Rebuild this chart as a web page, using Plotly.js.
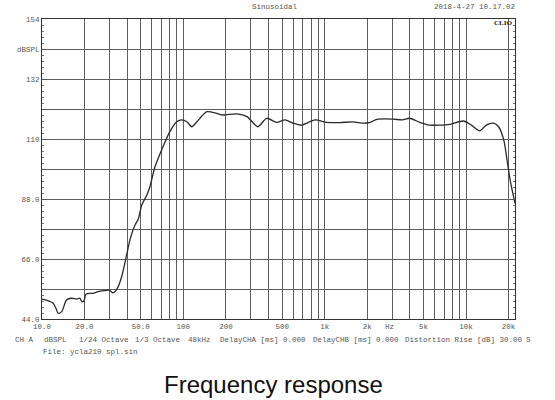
<!DOCTYPE html>
<html>
<head>
<meta charset="utf-8">
<script src="https://cdn.plot.ly/plotly-3.0.1.min.js"></script>
<style>html,body{margin:0;padding:0;background:#fff;}#chart{width:555px;height:400px;}</style>
</head>
<body>
<div id="chart"></div>
<script>
// Frequency (Hz) and SPL (dB)
const freqHz = [10, 10.6, 11.4, 12.0, 12.56, 13.0, 13.8, 14.9, 16.2, 17.6, 18.6, 19.1, 19.8, 20.5, 23.1, 25.0, 27.9, 29.9, 31.9, 34.1, 36.6, 39.7, 41.9, 45.5, 47.9, 50.8, 55.1, 58.0, 63.0, 70.2, 80.3, 89.7, 97.6, 105.9, 114.9, 124.6, 146.5, 172, 190, 239, 282, 336, 389, 456, 524, 598, 686, 854, 1031, 1283, 1591, 1877, 2100, 2340, 3040, 3540, 4000, 4700, 5500, 6500, 7700, 9600, 10900, 12500, 13900, 15600, 17000, 18500, 19500, 20500, 22200];
const splDb = [51.3, 51.0, 50.4, 49.8, 47.9, 46.1, 46.7, 51.0, 51.6, 51.3, 51.6, 50.4, 50.6, 53.2, 53.4, 54.0, 54.4, 54.6, 53.6, 55.2, 59.5, 67.5, 73.0, 78.5, 80.5, 85.8, 89.4, 92.5, 99.8, 106.0, 112.7, 116.3, 117.0, 116.3, 114.5, 116.3, 120.0, 119.4, 118.8, 119.2, 118.2, 114.5, 117.6, 116.1, 117.0, 115.8, 115.1, 117.0, 116.1, 116.0, 116.3, 115.8, 116.1, 117.2, 117.3, 117.0, 117.6, 116.1, 115.1, 115.1, 115.4, 116.6, 115.1, 113.0, 115.1, 115.8, 114.5, 109.6, 102.3, 95.0, 86.4];

// Axis ticks
const xTickVals = [10,20,30,40,50,60,70,80,90,100,200,300,400,500,600,700,800,900,1000,2000,3000,4000,5000,6000,7000,8000,9000,10000,20000];
const xTickText = ['10.0','20.0','','','50.0','','','','','100','200','','','500','','','','','1k','2k','','','5k','','','','','10k','20k'];
const yTickVals = [44,55,66,77,88,99,110,121,132,143,154];
const yTickText = ['44.0','','66.0','','88.0','','110','','132','dBSPL','154'];

const smallFont = {family: 'Liberation Mono, monospace', size: 7.5, color: '#555'};
const gridCol = '#5e5e5e';

const trace = {
  x: freqHz, y: splDb, type: 'scatter', mode: 'lines',
  line: {color: '#2a2a2a', width: 1.3, shape: 'spline', smoothing: 0.7},
  hoverinfo: 'x+y'
};

function ann(text, x, y, xanchor, extra) {
  return Object.assign({text: text, x: x, y: y, xref: 'paper', yref: 'paper', xanchor: xanchor, yanchor: 'middle', showarrow: false, font: smallFont}, extra || {});
}
const L = 42, W = 473, B = 319, H = 300;
const px = v => (v - L) / W;
const py = v => (B - v) / H;

const annotations = [
  ann('Sinusoidal', px(275), py(7), 'center'),
  ann('2018-4-27 10.17.02', px(517), py(7), 'right'),
  ann('<b>CLIO</b>', px(514), py(23), 'right', {font: {family: 'Liberation Serif, serif', size: 7, color: '#222'}}),
  ann('Hz', px(389), py(327), 'center'),
  ann('CH A', px(13), py(340), 'left'),
  ann('dBSPL', px(42), py(340), 'left'),
  ann('1/24 Octave', px(77), py(340), 'left'),
  ann('1/3 Octave', px(133), py(340), 'left'),
  ann('48kHz', px(186), py(340), 'left'),
  ann('DelayCHA [ms] 0.000', px(218), py(340), 'left'),
  ann('DelayCHB [ms] 0.000', px(311), py(340), 'left'),
  ann('Distortion Rise [dB] 30.00', px(403), py(340), 'left'),
  ann('S', px(524), py(340), 'left'),
  ann('File: ycla210 spl.sin', px(41), py(352), 'left'),
  ann('Frequency response', px(273), py(384), 'center', {font: {family: 'Liberation Sans, Arial, sans-serif', size: 24, color: '#111'}})
];

const layout = {
  width: 555, height: 400,
  margin: {l: L, r: 555 - L - W, t: B - H, b: 400 - B, pad: 0},
  paper_bgcolor: '#fff', plot_bgcolor: '#fff',
  showlegend: false,
  xaxis: {
    type: 'log', range: [1, Math.log10(22200)],
    tickmode: 'array', tickvals: xTickVals, ticktext: xTickText,
    showgrid: true, gridcolor: gridCol, gridwidth: 1,
    showline: true, linecolor: '#333', linewidth: 1, mirror: true,
    ticks: '', tickfont: smallFont, zeroline: false, fixedrange: true
  },
  yaxis: {
    range: [44, 154],
    tickmode: 'array', tickvals: yTickVals, ticktext: yTickText,
    showgrid: true, gridcolor: gridCol, gridwidth: 1,
    showline: true, linecolor: '#333', linewidth: 1, mirror: 'ticks',
    ticks: 'inside', ticklen: 4, tickcolor: '#555',
    minor: {tickmode: 'linear', tick0: 44, dtick: 2.2, ticks: 'inside', ticklen: 2, tickcolor: '#777', showgrid: false},
    tickfont: smallFont, zeroline: false, fixedrange: true
  },
  annotations: annotations
};

Plotly.newPlot('chart', [trace], layout, {staticPlot: true, displayModeBar: false});
</script>
</body>
</html>
